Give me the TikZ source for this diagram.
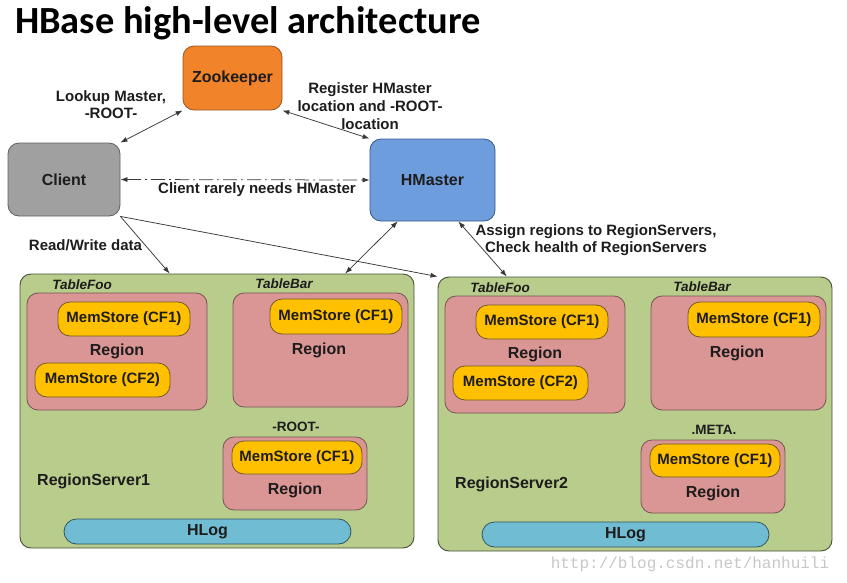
\documentclass[tikz,border=0pt]{standalone}
\usepackage{fontspec}
\setmainfont{Liberation Sans}
\newfontfamily\titlefont{Carlito}
\newfontfamily\urlfont{Liberation Mono}
\usepackage{tikz}
\usetikzlibrary{positioning, calc, arrows.meta}
\definecolor{zkcolor}{RGB}{241,131,42}
\definecolor{zkborder}{RGB}{150,85,35}
\definecolor{clientcolor}{RGB}{160,160,160}
\definecolor{clientborder}{RGB}{95,95,95}
\definecolor{mastercolor}{RGB}{110,157,222}
\definecolor{masterborder}{RGB}{55,85,135}
\definecolor{servercolor}{RGB}{184,204,140}
\definecolor{serverborder}{RGB}{70,80,55}
\definecolor{regioncolor}{RGB}{217,150,148}
\definecolor{regionborder}{RGB}{120,85,85}
\definecolor{memcolor}{RGB}{255,192,0}
\definecolor{memborder}{RGB}{115,90,35}
\definecolor{logcolor}{RGB}{112,188,210}
\definecolor{logborder}{RGB}{50,85,95}
\definecolor{textcolor}{RGB}{30,28,28}

\begin{document}
\begin{tikzpicture}[x=1pt, y=-1pt, >={Latex[length=7pt,width=5pt]}]
	\tikzstyle{mainbox}=[rectangle, rounded corners=11pt, line width=0.8pt, text=textcolor, font=\fontsize{16}{18}\selectfont\bfseries]
	\tikzstyle{serverbox}=[rectangle, rounded corners=11pt, draw=serverborder, fill=servercolor, line width=0.9pt, minimum width=394pt, minimum height=274pt]
	\tikzstyle{regionbox}=[rectangle, rounded corners=11pt, draw=regionborder, fill=regioncolor, line width=0.8pt]
	\tikzstyle{membox}=[rectangle, rounded corners=12pt, draw=memborder, fill=memcolor, line width=0.8pt, minimum height=34pt, inner sep=0pt, text=textcolor, font=\fontsize{15}{17}\selectfont\bfseries]
	\tikzstyle{logbox}=[rectangle, rounded corners=12.5pt, draw=logborder, fill=logcolor, line width=0.8pt, minimum width=287pt, minimum height=25pt, inner sep=0pt, text=textcolor, font=\fontsize{16}{18}\selectfont\bfseries]
	\tikzstyle{lbl}=[align=center, inner sep=0pt, text=textcolor, font=\fontsize{15}{17}\selectfont\bfseries]
	\tikzstyle{tablelbl}=[inner sep=0pt, text=textcolor, font=\fontsize{13.5}{15}\selectfont\bfseries\itshape]
	\tikzstyle{link}=[draw=black!78, line width=0.75pt]

	\useasboundingbox (0,0) rectangle (847,582);

	\node[anchor=base west, inner sep=0pt, font=\titlefont\fontsize{38.4}{41}\selectfont\bfseries] (title) at (15,33) {HBase high-level architecture};

	\node[mainbox, draw=zkborder, fill=zkcolor, minimum width=99pt, minimum height=64pt] (zk) at (232.5,78) {Zookeeper};
	\node[mainbox, draw=clientborder, fill=clientcolor, minimum width=112pt, minimum height=73pt] (client) at (64,179.5) {Client};
	\node[mainbox, draw=masterborder, fill=mastercolor, minimum width=125pt, minimum height=82pt] (hm) at (432.5,180) {HMaster};

	\node[lbl] (lookup) at (111,105) {Lookup Master,\\-ROOT-};
	\node[lbl, font=\fontsize{15}{18}\selectfont\bfseries] (register) at (370,106) {Register HMaster\\location and -ROOT-\\location};
	\node[lbl] (rarely) at (257,190) {Client rarely needs HMaster};
	\node[lbl] (readwrite) at (85.5,245) {Read/Write data};
	\node[lbl] (assign) at (596,240) {Assign regions to RegionServers,\\Check health of RegionServers};

	\foreach \i/\dx/\dy/\tag in {1/0/0/-ROOT-, 2/418/3/.META.}{
		\begin{scope}[shift={(\dx,\dy)}]
			\node[serverbox] (rs\i) at (217,411) {};
			\node[tablelbl] (foo\i) at (82,285) {TableFoo};
			\node[tablelbl] (bar\i) at (284,284) {TableBar};

			\node[regionbox, minimum width=180pt, minimum height=117pt] (rega\i) at (117,351.5) {};
			\node[membox, minimum width=132pt] (mema\i) at (124,319) {MemStore (CF1)};
			\node[lbl, font=\fontsize{16}{18}\selectfont\bfseries] (rtxta\i) at (117,351) {Region};
			\node[membox, minimum width=135pt] (memaa\i) at (102.5,380) {MemStore (CF2)};

			\node[regionbox, minimum width=175pt, minimum height=114pt] (regb\i) at (320.5,350) {};
			\node[membox, minimum width=132pt, minimum height=35pt] (memb\i) at (336,316.5) {MemStore (CF1)};
			\node[lbl, font=\fontsize{16}{18}\selectfont\bfseries] (rtxtb\i) at (319,350) {Region};

			\node[tablelbl, font=\fontsize{13.5}{15}\selectfont\bfseries] (tag\i) at (296,427) {\tag};
			\node[regionbox, minimum width=144pt, minimum height=73pt] (regc\i) at (295,473.5) {};
			\node[membox, minimum width=130pt, minimum height=33pt] (memc\i) at (297,457.5) {MemStore (CF1)};
			\node[lbl, font=\fontsize{16}{18}\selectfont\bfseries] (rtxtc\i) at (295,490) {Region};

			\node[lbl, anchor=west, font=\fontsize{16}{18}\selectfont\bfseries] (rsname\i) at (37,481) {RegionServer\i};
			\node[logbox] (hlog\i) at (207.5,531.5) {HLog};
		\end{scope}
	}

	\draw[link, <->] (zk.south west) -- (client.north east);
	\draw[link, <->] (zk.south east) -- (hm.north west);
	\draw[link, <->, dash pattern=on 14pt off 4pt on 2pt off 4pt] (client.east) -- (hm.west);
	\draw[link, ->] (client.south east) -- (rs1.109);
	\draw[link, ->] (client.south east) -- (rs2.north west);
	\draw[link, <->] (hm.230) -- (rs1.47);
	\draw[link, <->] (hm.302) -- (rs2.133);

	\node[inner sep=0pt, text=black!22, font=\urlfont\fontsize{16}{18}\selectfont] (url) at (690,564) {http://blog.csdn.net/hanhuili};
\end{tikzpicture}
\end{document}
